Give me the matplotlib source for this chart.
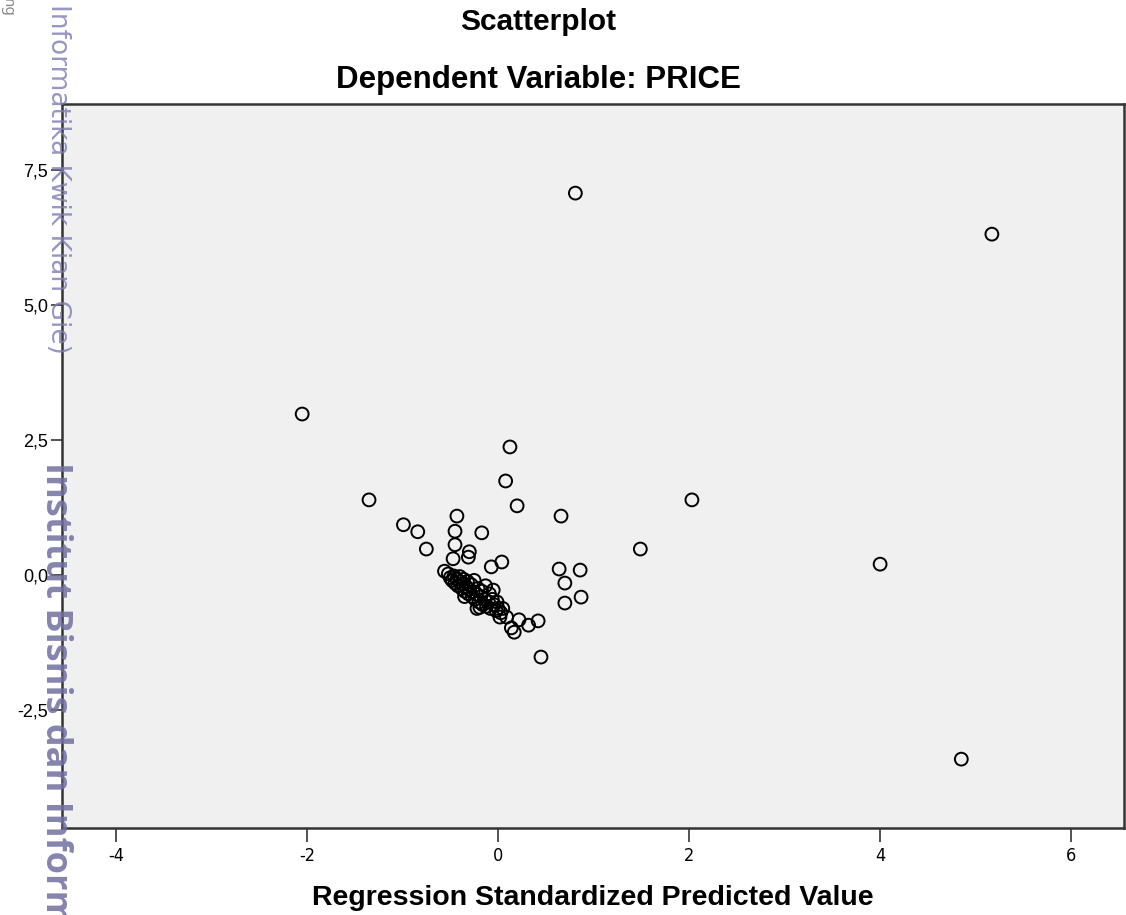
import matplotlib
matplotlib.use('Agg')
import matplotlib.pyplot as plt
from matplotlib.ticker import FixedLocator, FixedFormatter

plt.rcParams['axes.unicode_minus'] = False

# Predicted (x) and residual (y) values
pred_outer = [0.81, 5.17, -2.05, 0.125, 0.08, -1.35, 2.03, 0.20, 0.66, -0.43,
              -0.99, -0.84, -0.45, -0.17, -0.45, -0.75, 1.49, -0.30, -0.31, -0.47,
              0.04, -0.07, 4.00, 0.64, 0.86, -0.56, 0.70, 0.87, 0.70, 4.85,
              0.45, 0.02, 0.09, 0.22, 0.42, 0.32, 0.14, 0.17]
resid_outer = [7.07, 6.31, 2.98, 2.37, 1.74, 1.39, 1.39, 1.28, 1.09, 1.09,
               0.93, 0.80, 0.81, 0.78, 0.56, 0.48, 0.48, 0.43, 0.33, 0.30,
               0.24, 0.15, 0.20, 0.11, 0.09, 0.07, -0.15, -0.41, -0.52, -3.41,
               -1.52, -0.78, -0.78, -0.83, -0.85, -0.93, -0.98, -1.06]

# dense band around the origin
pred_cluster = [-0.52, -0.50, -0.48, -0.46, -0.45, -0.43, -0.42, -0.40, -0.40, -0.38,
                -0.37, -0.36, -0.35, -0.33, -0.32, -0.31, -0.30, -0.28, -0.27, -0.26,
                -0.25, -0.24, -0.22, -0.21, -0.20, -0.19, -0.18, -0.17, -0.16, -0.14,
                -0.13, -0.12, -0.10, -0.09, -0.08, -0.06, -0.05, -0.04, -0.02, -0.01,
                0.00, 0.03, -0.35, -0.22, 0.05]
resid_cluster = [0.02, -0.05, -0.10, -0.02, -0.15, -0.08, -0.20, -0.12, -0.03, -0.25,
                 -0.17, -0.08, -0.30, -0.22, -0.12, -0.35, -0.27, -0.18, -0.40, -0.31,
                 -0.10, -0.45, -0.36, -0.25, -0.50, -0.60, -0.40, -0.30, -0.55, -0.45,
                 -0.20, -0.58, -0.50, -0.35, -0.62, -0.45, -0.28, -0.55, -0.66, -0.50,
                 -0.62, -0.70, -0.40, -0.62, -0.62]

x_ticks = [-4, -2, 0, 2, 4, 6]
y_ticks = [-2.5, 0.0, 2.5, 5.0, 7.5]
y_tick_labels = ['-2,5', '0,0', '2,5', '5,0', '7,5']

pred = pred_outer + pred_cluster
resid = resid_outer + resid_cluster

fig = plt.figure(figsize=(11.26, 9.15), dpi=100)
ax = fig.add_axes([62 / 1126, 1 - 828 / 915, 1062 / 1126, 724 / 915])
ax.set_facecolor('#f0f0f0')

ax.scatter(pred, resid, s=85, facecolors='none', edgecolors='black', linewidths=1.4, zorder=3)

ax.set_xlim(-4.564, 6.553)
ax.set_ylim(-4.685, 8.72)

ax.xaxis.set_major_locator(FixedLocator(x_ticks))
ax.yaxis.set_major_locator(FixedLocator(y_ticks))
ax.yaxis.set_major_formatter(FixedFormatter(y_tick_labels))
ax.tick_params(axis='x', direction='out', length=10, width=1.2, color='#333333', pad=4)
ax.tick_params(axis='y', direction='out', length=8, width=1.2, color='#333333', pad=2)
for lbl in ax.get_xticklabels():
    lbl.set_fontfamily('DejaVu Sans')
    lbl.set_fontstretch('condensed')
    lbl.set_fontsize(13)
for lbl in ax.get_yticklabels():
    lbl.set_fontfamily('Liberation Sans')
    lbl.set_fontsize(13)

for side in ['left', 'bottom', 'top', 'right']:
    ax.spines[side].set_color('#333333')
    ax.spines[side].set_linewidth(1.8)

ax.set_xlabel('Regression Standardized Predicted Value', fontsize=20.5, fontweight='bold',
              family='Liberation Sans', va='center')
ax.xaxis.set_label_coords((593 - 62) / 1062, -(898 - 828) / 724)

fig.text(538 / 1126, 1 - 22 / 915, 'Scatterplot', ha='center', va='center',
         fontsize=21.5, fontweight='bold', family='Liberation Sans')
fig.text(538 / 1126, 1 - 80 / 915, 'Dependent Variable: PRICE', ha='center', va='center',
         fontsize=22.5, fontweight='bold', family='Liberation Sans')

# watermark on the left edge
fig.text(55 / 1126, 1 - 462 / 915, 'Institut Bisnis dan Informatika', rotation=270,
         ha='center', va='top', fontsize=26, fontweight='bold', family='Open Sans',
         color='#6f6fa0', alpha=0.85, zorder=10)
fig.text(58 / 1126, 1 - 4 / 915, 'Informatika Kwik Kian Gie)', rotation=270,
         ha='center', va='top', fontsize=19, family='DejaVu Sans',
         color='#7c7cb4', alpha=0.8, zorder=10)
fig.text(7 / 1126, 1 + 2 / 915, 'ng', rotation=270, ha='center', va='top',
         fontsize=11, family='Noto Sans', color='#888888', zorder=10)

fig.savefig('out.png', dpi=100)
